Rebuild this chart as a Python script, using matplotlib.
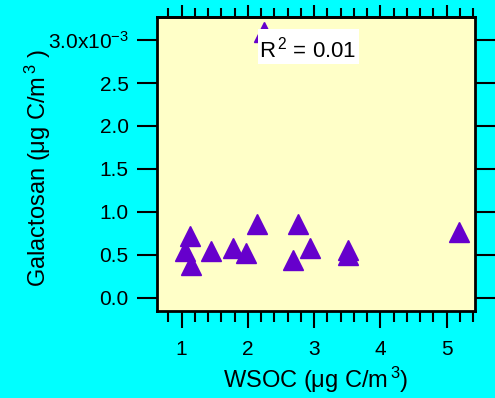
import matplotlib
matplotlib.use("Agg")
import matplotlib.pyplot as plt
from matplotlib.patches import Rectangle
from matplotlib.ticker import FixedLocator, MultipleLocator, FuncFormatter, NullFormatter

plt.rcParams['font.family'] = ['Liberation Sans', 'DejaVu Sans']
plt.rcParams['mathtext.fontset'] = 'custom'
plt.rcParams['mathtext.rm'] = 'Liberation Sans'
plt.rcParams['mathtext.it'] = 'Liberation Sans'

# Data (galactosan in µg C/m3)
wsoc = [1.12, 1.045, 1.136, 1.442, 1.769, 1.974, 2.136, 2.759, 2.94, 2.674, 3.513, 3.513, 5.187, 2.24]
galactosan = [0.716e-3, 0.548e-3, 0.381e-3, 0.548e-3, 0.576e-3, 0.517e-3, 0.855e-3,
              0.855e-3, 0.576e-3, 0.439e-3, 0.556e-3, 0.498e-3, 0.769e-3, 3.10e-3]
r2_text = r"R$^{\,2}$ = 0.01"
yticks = [0.0, 0.5e-3, 1.0e-3, 1.5e-3, 2.0e-3, 2.5e-3, 3.0e-3]
xticks = [1, 2, 3, 4, 5]

fig = plt.figure(figsize=(4.95, 3.98), dpi=100, facecolor='#00FFFF')
ax = fig.add_axes([0.317, 0.2186, 0.643, 0.7384])
ax.set_facecolor('#FFFFC8')

ax.plot(wsoc, galactosan, linestyle='none', marker='^', markersize=15,
        color='#6600CC', clip_on=True, zorder=2)

ax.set_xlim(0.628, 5.43)
ax.set_ylim(-0.155e-3, 3.268e-3)

ax.xaxis.set_major_locator(FixedLocator(xticks))
ax.xaxis.set_minor_locator(MultipleLocator(0.2))
ax.yaxis.set_major_locator(FixedLocator(yticks))

def yfmt(v, pos):
    if abs(v - 3.0e-3) < 1e-9:
        return "3.0x10$^{-3}$"
    return "%.1f" % (v * 1e3)
ax.yaxis.set_major_formatter(FuncFormatter(yfmt))

ax.tick_params(axis='x', which='major', direction='out', length=12, width=1.5,
               top=False, bottom=True, labelsize=15, pad=9, colors='black')
ax.tick_params(axis='x', which='minor', direction='out', length=8, width=1.5,
               top=False, bottom=True, colors='black')
ax.tick_params(axis='y', which='major', direction='out', length=14.4, width=1.5,
               left=True, right=True, labelsize=15, pad=6, colors='black')

top = ax.secondary_xaxis('top')
top.xaxis.set_major_locator(FixedLocator(xticks))
top.xaxis.set_minor_locator(MultipleLocator(0.2))
top.xaxis.set_major_formatter(NullFormatter())
top.tick_params(axis='x', which='major', direction='out', length=8.5, width=1.5, colors='black')
top.tick_params(axis='x', which='minor', direction='out', length=6.7, width=1.5, colors='black')
top.spines['top'].set_linewidth(2)

for s in ax.spines.values():
    s.set_linewidth(2)

ax.set_xlabel(r"WSOC (μg C/m$^{\,3}$)", fontsize=17, labelpad=4)
ax.set_ylabel(r"Galactosan (μg C/m$^{\,3}$ )", fontsize=17)
ax.yaxis.set_label_coords(-0.327, 0.485)

ax.add_patch(Rectangle((0.3176, 0.840), 0.3174, 0.119, transform=ax.transAxes,
                       facecolor='white', edgecolor='none', zorder=3))
ax.text(0.321, 0.863, r2_text, transform=ax.transAxes, fontsize=16,
        ha='left', va='baseline', zorder=4)

fig.savefig("out.png", dpi=100, facecolor=fig.get_facecolor())
